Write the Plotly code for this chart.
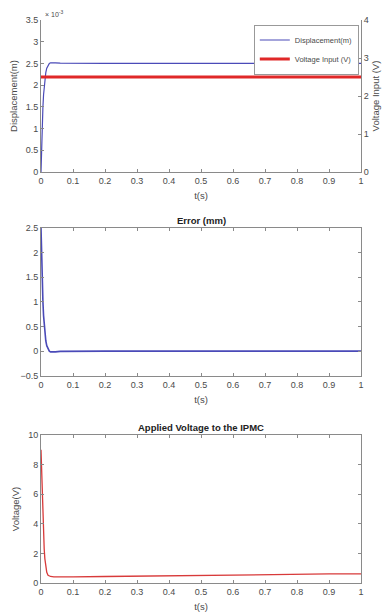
import plotly.graph_objects as go

# ---- data ----
t_disp = [0, 0.001, 0.002, 0.003, 0.004, 0.005, 0.006, 0.008, 0.010, 0.012, 0.015,
          0.018, 0.022, 0.026, 0.030, 0.035, 0.045, 0.06, 0.1, 0.2, 0.3, 0.4, 0.5,
          0.6, 0.7, 0.8, 0.9, 1.0]
disp_m = [0, 0.35e-3, 0.65e-3, 0.9e-3, 1.15e-3, 1.35e-3, 1.5e-3, 1.78e-3, 1.98e-3,
          2.13e-3, 2.29e-3, 2.39e-3, 2.46e-3, 2.50e-3, 2.515e-3, 2.52e-3, 2.515e-3,
          2.505e-3, 2.5e-3, 2.5e-3, 2.5e-3, 2.5e-3, 2.5e-3, 2.5e-3, 2.5e-3, 2.5e-3,
          2.5e-3, 2.5e-3]

t_input = [0, 1.0]
v_input = [2.5, 2.5]

t_err = [0, 0.001, 0.002, 0.003, 0.004, 0.005, 0.006, 0.008, 0.010, 0.012, 0.015,
         0.018, 0.022, 0.026, 0.030, 0.035, 0.045, 0.06, 0.1, 0.2, 0.3, 0.4, 0.5,
         0.6, 0.7, 0.8, 0.9, 1.0]
err_mm = [2.5, 2.15, 1.85, 1.6, 1.35, 1.15, 1.0, 0.72, 0.52, 0.37, 0.21, 0.11, 0.04,
          0.0, -0.015, -0.02, -0.015, -0.005, 0, 0, 0, 0, 0, 0, 0, 0, 0, 0]

t_volt = [0, 0.001, 0.002, 0.003, 0.004, 0.005, 0.006, 0.008, 0.010, 0.012, 0.015,
          0.018, 0.022, 0.026, 0.030, 0.04, 0.06, 0.1, 0.2, 0.3, 0.4, 0.5, 0.6, 0.7,
          0.8, 0.9, 1.0]
volt = [9.0, 8.2, 7.4, 6.6, 5.8, 5.0, 4.3, 3.2, 2.3, 1.65, 1.05, 0.72, 0.52, 0.46,
        0.44, 0.42, 0.41, 0.41, 0.44, 0.47, 0.50, 0.52, 0.55, 0.57, 0.59, 0.61, 0.62]

x_ticks = [0, 0.1, 0.2, 0.3, 0.4, 0.5, 0.6, 0.7, 0.8, 0.9, 1]
disp_ticks = [0, 0.5e-3, 1e-3, 1.5e-3, 2e-3, 2.5e-3, 3e-3, 3.5e-3]
disp_ticktext = ["0", "0.5", "1", "1.5", "2", "2.5", "3", "3.5"]

# ---- styling ----
FONT = "Liberation Sans, Arial, sans-serif"
AX = "#8a8a8a"
TXT = "#4a4a4a"
BLUE = "#4a4ab8"
RED = "#e02828"

fig = go.Figure()
fig.add_trace(go.Scatter(x=t_disp, y=disp_m, mode="lines", name="Displacement(m)",
                         line=dict(color=BLUE, width=1.2), xaxis="x", yaxis="y"))
fig.add_trace(go.Scatter(x=t_input, y=v_input, mode="lines", name="Voltage Input (V)",
                         line=dict(color=RED, width=3), xaxis="x", yaxis="y4"))
fig.add_trace(go.Scatter(x=t_err, y=err_mm, mode="lines", showlegend=False,
                         line=dict(color=BLUE, width=1.6), xaxis="x2", yaxis="y2"))
fig.add_trace(go.Scatter(x=t_volt, y=volt, mode="lines", showlegend=False,
                         line=dict(color="#d83a3a", width=1.3), xaxis="x3", yaxis="y3"))

tickfont = dict(family=FONT, size=9, color=TXT)
titlefont = dict(family=FONT, size=9.5, color=TXT)


def xax(anchor, mirror):
    return dict(range=[0, 1], tickvals=x_ticks, ticks="inside", ticklen=3,
                tickcolor=AX, showline=True, linecolor=AX, linewidth=1,
                mirror=mirror, showgrid=False, zeroline=False, tickfont=tickfont,
                anchor=anchor, domain=[0, 1], fixedrange=True, automargin=False,
                title=dict(text="t(s)", font=titlefont, standoff=7))


d1 = [0.730, 1.0]
d2 = [0.368, 0.631]
d3 = [0.0, 0.263]

fig.update_layout(
    width=386, height=613,
    margin=dict(l=41, r=25, t=20, b=30),
    paper_bgcolor="white", plot_bgcolor="white",
    font=dict(family=FONT, color=TXT),
    xaxis=xax("y", False),
    xaxis2=xax("y2", "ticks"),
    xaxis3=xax("y3", "ticks"),
    yaxis=dict(domain=d1, range=[0, 3.5e-3], tickvals=disp_ticks,
               ticktext=disp_ticktext, ticks="inside", ticklen=3, tickcolor=AX,
               showline=True, linecolor=AX, showgrid=False, zeroline=False,
               tickfont=tickfont, anchor="x", fixedrange=True, automargin=False,
               title=dict(text="Displacement(m)", font=titlefont, standoff=6)),
    yaxis4=dict(domain=d1, range=[0, 4], dtick=1, ticks="inside", ticklen=3,
                tickcolor=AX, showline=True, linecolor=AX, showgrid=False,
                zeroline=False, tickfont=tickfont, overlaying="y", side="right",
                anchor="x", fixedrange=True, automargin=False,
                title=dict(text="Voltage Input (V)", font=titlefont, standoff=4)),
    yaxis2=dict(domain=d2, range=[-0.5, 2.5], dtick=0.5, ticks="inside", ticklen=3,
                tickcolor=AX, showline=True, linecolor=AX, mirror="ticks",
                showgrid=False, zeroline=False, tickfont=tickfont, anchor="x2",
                fixedrange=True, automargin=False),
    yaxis3=dict(domain=d3, range=[0, 10], dtick=2, ticks="inside", ticklen=3,
                tickcolor=AX, showline=True, linecolor=AX, mirror="ticks",
                showgrid=False, zeroline=False, tickfont=tickfont, anchor="x3",
                fixedrange=True, automargin=False,
                title=dict(text="Voltage(V)", font=titlefont, standoff=6)),
    legend=dict(x=0.665, y=0.992, xanchor="left", yanchor="top",
                bgcolor="white", bordercolor="#999999", borderwidth=1,
                font=dict(family=FONT, size=7.5, color=TXT),
                itemwidth=30, tracegroupgap=0),
    showlegend=True,
    annotations=[
        dict(text="× 10<sup>-3</sup>", x=0.006, y=1.0, xref="paper", yref="paper",
             xanchor="left", yanchor="bottom", showarrow=False,
             font=dict(family=FONT, size=7, color=TXT)),
        dict(text="<b>Error (mm)</b>", x=0.5, y=d2[1], xref="paper", yref="paper",
             xanchor="center", yanchor="bottom", yshift=0, showarrow=False,
             font=dict(family=FONT, size=9.5, color="#222222")),
        dict(text="<b>Applied Voltage to the IPMC</b>", x=0.5, y=d3[1], xref="paper",
             yref="paper", xanchor="center", yanchor="bottom", yshift=0,
             showarrow=False, font=dict(family=FONT, size=9.5, color="#222222")),
    ],
)

fig.write_html("out.html")
